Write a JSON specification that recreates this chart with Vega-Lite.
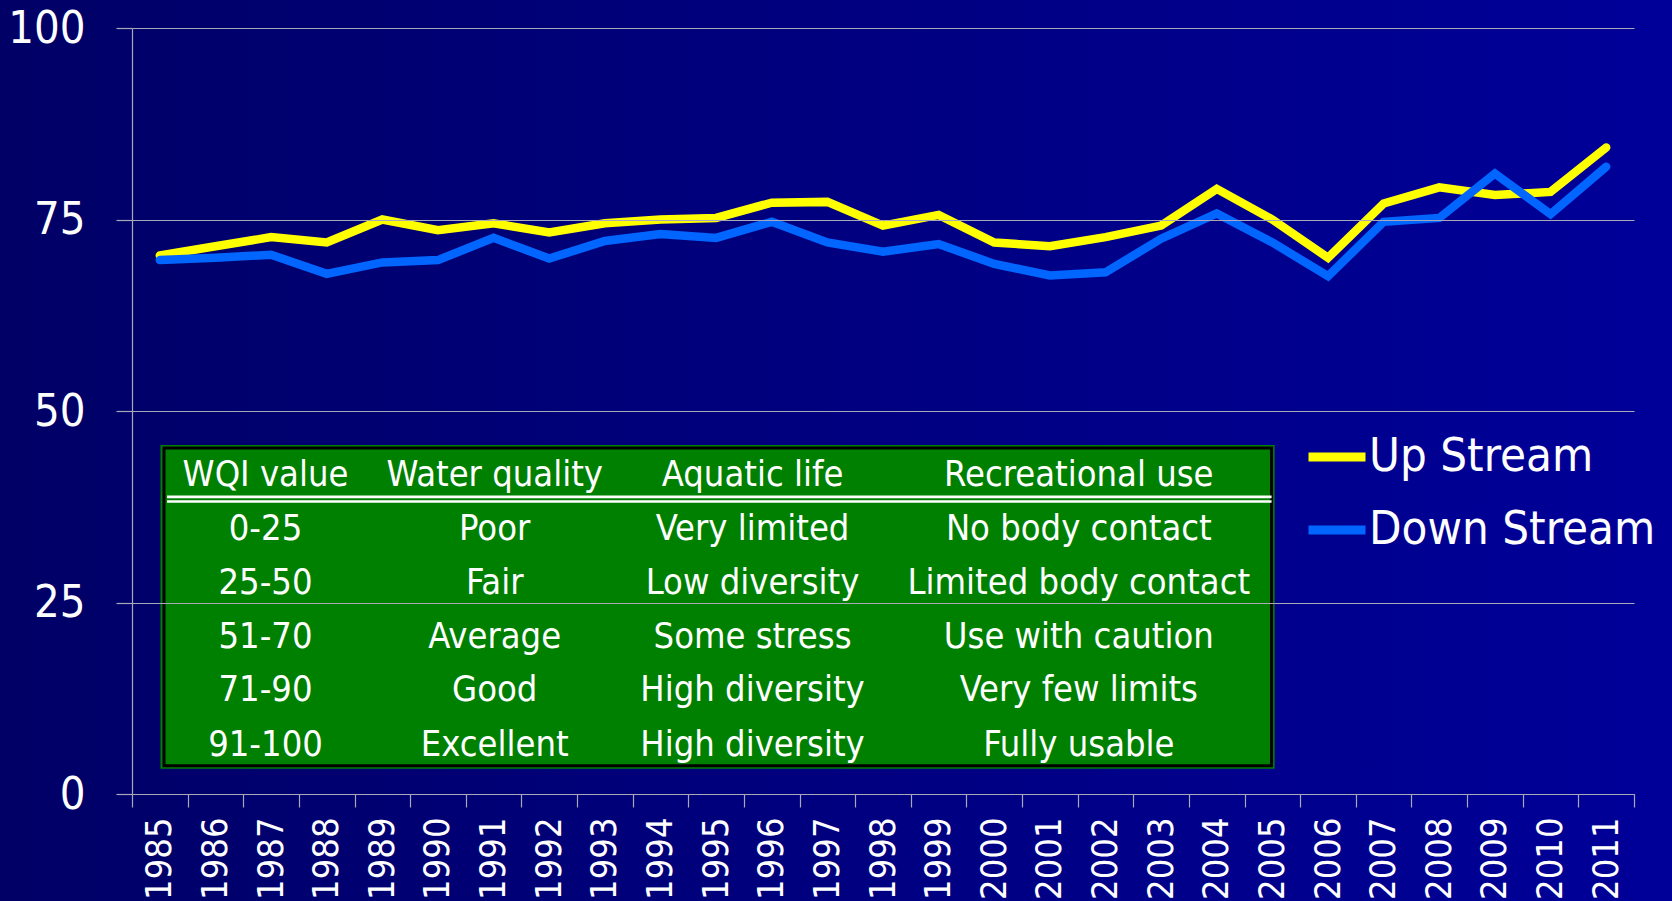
{
  "$schema": "https://vega.github.io/schema/vega-lite/v6.json",
  "width": 1502,
  "height": 766,
  "autosize": {"type": "none"},
  "padding": {"left": 132, "top": 28, "right": 38, "bottom": 107},
  "background": "#000080",
  "config": {"view": {"stroke": null}, "font": "DejaVu Sans Condensed"},
  "resolve": {"scale": {"x": "independent"}, "axis": {"x": "independent", "y": "independent"}},
  "layer": [
    {
      "layer": [
        {
          "data": {"values": [{"x0": -2.5, "x1": 27.8, "y0": -14.5, "y1": 104.2}]},
          "mark": {"type": "rect", "fill": {"gradient": "linear", "x1": 0, "y1": 0, "x2": 1, "y2": 0, "stops": [{"offset": 0, "color": "#000066"}, {"offset": 1, "color": "#000099"}]}},
          "encoding": {
            "x": {"field": "x0", "type": "quantitative", "scale": {"domain": [0, 27], "nice": false, "zero": false}, "axis": null},
            "x2": {"field": "x1"},
            "y": {"field": "y0", "type": "quantitative", "scale": {"domain": [0, 100], "nice": false}, "axis": null},
            "y2": {"field": "y1"}
          }
        },
        {
          "data": {"values": [{"x0": 0.512, "x1": 20.54, "y0": 3.3, "y1": 45.56}]},
          "mark": {"type": "rect", "fill": "#008000"},
          "encoding": {
            "x": {"field": "x0", "type": "quantitative", "scale": {"domain": [0, 27], "nice": false, "zero": false}, "axis": null},
            "x2": {"field": "x1"},
            "y": {"field": "y0", "type": "quantitative", "scale": {"domain": [0, 100], "nice": false}, "axis": null},
            "y2": {"field": "y1"}
          }
        },
        {
          "data": {"values": [{"x0": 0.575, "x1": 20.485, "y0": 3.7, "y1": 45.17}]},
          "mark": {"type": "rect", "fill": "#008000", "stroke": "#000000", "strokeWidth": 3},
          "encoding": {
            "x": {"field": "x0", "type": "quantitative", "scale": {"domain": [0, 27], "nice": false, "zero": false}, "axis": null},
            "x2": {"field": "x1"},
            "y": {"field": "y0", "type": "quantitative", "scale": {"domain": [0, 100], "nice": false}, "axis": null},
            "y2": {"field": "y1"}
          }
        },
        {
          "data": {"values": [{"x0": 0.63, "x1": 20.485, "y": 38.79}, {"x0": 0.63, "x1": 20.485, "y": 38.18}]},
          "mark": {"type": "rule", "color": "#FFFFFF", "strokeWidth": 2.6},
          "encoding": {
            "x": {"field": "x0", "type": "quantitative", "scale": {"domain": [0, 27], "nice": false, "zero": false}, "axis": null},
            "x2": {"field": "x1"},
            "y": {"field": "y", "type": "quantitative", "scale": {"domain": [0, 100], "nice": false}, "axis": null}
          }
        },
        {
          "data": {"values": [
            {"col": 2.40, "row": 41.7, "label": "WQI value"},
            {"col": 6.52, "row": 41.7, "label": "Water quality"},
            {"col": 11.155, "row": 41.7, "label": "Aquatic life"},
            {"col": 17.02, "row": 41.7, "label": "Recreational use"},
            {"col": 2.40, "row": 34.65, "label": "0-25"},
            {"col": 6.52, "row": 34.65, "label": "Poor"},
            {"col": 11.155, "row": 34.65, "label": "Very limited"},
            {"col": 17.02, "row": 34.65, "label": "No body contact"},
            {"col": 2.40, "row": 27.53, "label": "25-50"},
            {"col": 6.52, "row": 27.53, "label": "Fair"},
            {"col": 11.155, "row": 27.53, "label": "Low diversity"},
            {"col": 17.02, "row": 27.53, "label": "Limited body contact"},
            {"col": 2.40, "row": 20.55, "label": "51-70"},
            {"col": 6.52, "row": 20.55, "label": "Average"},
            {"col": 11.155, "row": 20.55, "label": "Some stress"},
            {"col": 17.02, "row": 20.55, "label": "Use with caution"},
            {"col": 2.40, "row": 13.63, "label": "71-90"},
            {"col": 6.52, "row": 13.63, "label": "Good"},
            {"col": 11.155, "row": 13.63, "label": "High diversity"},
            {"col": 17.02, "row": 13.63, "label": "Very few limits"},
            {"col": 2.40, "row": 6.45, "label": "91-100"},
            {"col": 6.52, "row": 6.45, "label": "Excellent"},
            {"col": 11.155, "row": 6.45, "label": "High diversity"},
            {"col": 17.02, "row": 6.45, "label": "Fully usable"}
          ]},
          "mark": {"type": "text", "color": "#FFFFFF", "fontSize": 36, "font": "DejaVu Sans Condensed", "align": "center", "baseline": "middle"},
          "encoding": {
            "x": {"field": "col", "type": "quantitative", "scale": {"domain": [0, 27], "nice": false, "zero": false}, "axis": null},
            "y": {"field": "row", "type": "quantitative", "scale": {"domain": [0, 100], "nice": false}, "axis": null},
            "text": {"field": "label"}
          }
        }
      ]
    },
    {
      "data": {"values": [
        {"year": 1985, "site": "Up Stream", "wqi": 70.3},
        {"year": 1986, "site": "Up Stream", "wqi": 71.5},
        {"year": 1987, "site": "Up Stream", "wqi": 72.7},
        {"year": 1988, "site": "Up Stream", "wqi": 72.0},
        {"year": 1989, "site": "Up Stream", "wqi": 75.0},
        {"year": 1990, "site": "Up Stream", "wqi": 73.6},
        {"year": 1991, "site": "Up Stream", "wqi": 74.5},
        {"year": 1992, "site": "Up Stream", "wqi": 73.3},
        {"year": 1993, "site": "Up Stream", "wqi": 74.5},
        {"year": 1994, "site": "Up Stream", "wqi": 75.0},
        {"year": 1995, "site": "Up Stream", "wqi": 75.2},
        {"year": 1996, "site": "Up Stream", "wqi": 77.2},
        {"year": 1997, "site": "Up Stream", "wqi": 77.3},
        {"year": 1998, "site": "Up Stream", "wqi": 74.2},
        {"year": 1999, "site": "Up Stream", "wqi": 75.6},
        {"year": 2000, "site": "Up Stream", "wqi": 72.0},
        {"year": 2001, "site": "Up Stream", "wqi": 71.5},
        {"year": 2002, "site": "Up Stream", "wqi": 72.7},
        {"year": 2003, "site": "Up Stream", "wqi": 74.2},
        {"year": 2004, "site": "Up Stream", "wqi": 79.0},
        {"year": 2005, "site": "Up Stream", "wqi": 75.0},
        {"year": 2006, "site": "Up Stream", "wqi": 70.0},
        {"year": 2007, "site": "Up Stream", "wqi": 77.1},
        {"year": 2008, "site": "Up Stream", "wqi": 79.2},
        {"year": 2009, "site": "Up Stream", "wqi": 78.2},
        {"year": 2010, "site": "Up Stream", "wqi": 78.6},
        {"year": 2011, "site": "Up Stream", "wqi": 84.4},
        {"year": 1985, "site": "Down Stream", "wqi": 69.7},
        {"year": 1986, "site": "Down Stream", "wqi": 70.0},
        {"year": 1987, "site": "Down Stream", "wqi": 70.4},
        {"year": 1988, "site": "Down Stream", "wqi": 67.9},
        {"year": 1989, "site": "Down Stream", "wqi": 69.4},
        {"year": 1990, "site": "Down Stream", "wqi": 69.7},
        {"year": 1991, "site": "Down Stream", "wqi": 72.6},
        {"year": 1992, "site": "Down Stream", "wqi": 69.9},
        {"year": 1993, "site": "Down Stream", "wqi": 72.2},
        {"year": 1994, "site": "Down Stream", "wqi": 73.1},
        {"year": 1995, "site": "Down Stream", "wqi": 72.6},
        {"year": 1996, "site": "Down Stream", "wqi": 74.7},
        {"year": 1997, "site": "Down Stream", "wqi": 72.0},
        {"year": 1998, "site": "Down Stream", "wqi": 70.8},
        {"year": 1999, "site": "Down Stream", "wqi": 71.8},
        {"year": 2000, "site": "Down Stream", "wqi": 69.2},
        {"year": 2001, "site": "Down Stream", "wqi": 67.7},
        {"year": 2002, "site": "Down Stream", "wqi": 68.1},
        {"year": 2003, "site": "Down Stream", "wqi": 72.5},
        {"year": 2004, "site": "Down Stream", "wqi": 75.8},
        {"year": 2005, "site": "Down Stream", "wqi": 72.0},
        {"year": 2006, "site": "Down Stream", "wqi": 67.6},
        {"year": 2007, "site": "Down Stream", "wqi": 74.7},
        {"year": 2008, "site": "Down Stream", "wqi": 75.2},
        {"year": 2009, "site": "Down Stream", "wqi": 81.0},
        {"year": 2010, "site": "Down Stream", "wqi": 75.7},
        {"year": 2011, "site": "Down Stream", "wqi": 81.9}
      ]},
      "mark": {"type": "line", "strokeWidth": 8.5, "strokeCap": "round", "strokeJoin": "miter"},
      "encoding": {
        "x": {
          "field": "year", "type": "ordinal",
          "scale": {"type": "band", "paddingInner": 0, "paddingOuter": 0},
          "axis": {"title": null, "zindex": 1, "labelAngle": -90, "labelFontSize": 36, "labelFont": "DejaVu Sans Condensed", "labelColor": "#FFFFFF", "labelPadding": 10, "tickBand": "extent", "tickSize": 13, "tickColor": "#A8A8B8", "tickWidth": 1.2, "domainColor": "#A8A8B8", "domainWidth": 1.2, "grid": false, "labelOverlap": false}
        },
        "y": {
          "field": "wqi", "type": "quantitative",
          "scale": {"domain": [0, 100], "nice": false},
          "axis": {"orient": "left", "title": null, "zindex": 1, "values": [0, 25, 50, 75, 100], "labelFontSize": 45, "labelFont": "DejaVu Sans Condensed", "labelColor": "#FFFFFF", "labelPadding": 31, "tickSize": 16, "tickColor": "#A8A8B8", "tickWidth": 1.2, "domainColor": "#A8A8B8", "domainWidth": 1.2, "grid": true, "gridColor": "#A8A8B8", "gridWidth": 1.2}
        },
        "color": {
          "field": "site", "type": "nominal", "sort": null,
          "scale": {"domain": ["Up Stream", "Down Stream"], "range": ["#FFFF00", "#0066FF"]},
          "legend": {"title": null, "zindex": 1, "orient": "none", "legendX": 1172, "legendY": 396, "padding": 0, "labelFontSize": 47, "labelLimit": 0, "labelFont": "DejaVu Sans Condensed", "labelColor": "#FFFFFF", "symbolType": "stroke", "symbolStrokeWidth": 9, "symbolSize": 3249, "labelOffset": -1, "rowPadding": 17}
        }
      }
    }
  ]
}
